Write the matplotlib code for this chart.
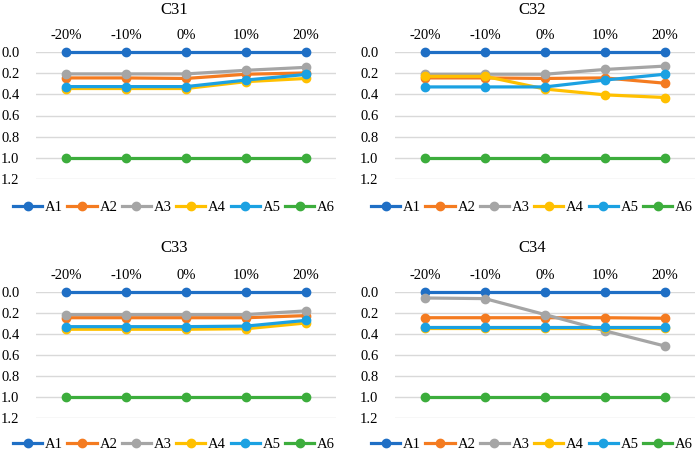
import matplotlib.pyplot as plt

plt.rcParams['font.family'] = ['Liberation Serif', 'DejaVu Serif']

levels = ['-20%', '-10%', '0%', '10%', '20%']
series = ['A1', 'A2', 'A3', 'A4', 'A5', 'A6']
colors = ['#1f6fc5', '#f47b20', '#a5a5a5', '#ffc000', '#1ba1e2', '#3cad3c']

# values per chart, one list per series A1..A6
c31 = [[0, 0, 0, 0, 0],
       [0.245, 0.245, 0.25, 0.21, 0.198],
       [0.207, 0.207, 0.207, 0.173, 0.145],
       [0.345, 0.345, 0.345, 0.28, 0.25],
       [0.327, 0.327, 0.327, 0.265, 0.212],
       [1, 1, 1, 1, 1]]
c32 = [[0, 0, 0, 0, 0],
       [0.245, 0.245, 0.25, 0.245, 0.295],
       [0.21, 0.21, 0.21, 0.165, 0.133],
       [0.23, 0.23, 0.35, 0.405, 0.43],
       [0.33, 0.33, 0.33, 0.265, 0.21],
       [1, 1, 1, 1, 1]]
c33 = [[0, 0, 0, 0, 0],
       [0.245, 0.245, 0.245, 0.245, 0.225],
       [0.215, 0.215, 0.215, 0.215, 0.18],
       [0.355, 0.355, 0.355, 0.35, 0.295],
       [0.33, 0.33, 0.33, 0.325, 0.27],
       [1, 1, 1, 1, 1]]
c34 = [[0, 0, 0, 0, 0],
       [0.245, 0.245, 0.245, 0.245, 0.25],
       [0.057, 0.063, 0.215, 0.37, 0.515],
       [0.347, 0.347, 0.347, 0.347, 0.347],
       [0.33, 0.33, 0.33, 0.33, 0.33],
       [1, 1, 1, 1, 1]]
charts = ['C31', 'C32', 'C33', 'C34']
yticks = [0.0, 0.2, 0.4, 0.6, 0.8, 1.0, 1.2]

W, H = 699, 453
fig = plt.figure(figsize=(W / 100, H / 100), dpi=100)

# (left px, top px, right px, bottom px, title center x, title y, legend y)
boxes = [(36, 52, 336, 179, 174, 10, 207),
         (395, 52, 695, 179, 532, 10, 207),
         (36, 292, 336, 418, 174, 248, 444),
         (395, 292, 695, 418, 532, 248, 444)]
data = [c31, c32, c33, c34]

for name, vals, (l, t, r, b, tx, ty, ly) in zip(charts, data, boxes):
    ax = fig.add_axes([l / W, 1 - b / H, (r - l) / W, (b - t) / H])
    x = range(len(levels))
    for s, v, c in zip(series, vals, colors):
        ax.plot(x, v, color=c, lw=2.3, marker='o', ms=6, label=s,
                clip_on=False, zorder=3)
    ax.set_xlim(-0.5, len(levels) - 0.5)
    ax.set_ylim(1.2, 0)
    ax.set_yticks(yticks)
    ax.set_yticklabels(['%.1f' % v for v in yticks])
    ax.set_xticks(list(x))
    ax.set_xticklabels(levels)
    ax.xaxis.tick_top()
    ax.tick_params(axis='both', length=0, labelsize=10.5)
    ax.tick_params(axis='x', pad=7)
    ax.tick_params(axis='y', pad=12)
    ax.grid(axis='y', color='#d9d9d9', lw=1)
    for sp in ax.spines.values():
        sp.set_visible(False)
    fig.text(tx / W, 1 - ty / H, name, ha='center', va='center', fontsize=12)
    fig.legend(*ax.get_legend_handles_labels(), loc='center',
               bbox_to_anchor=(tx / W, 1 - ly / H), ncol=6, frameon=False,
               fontsize=10.5, handlelength=2.0, handletextpad=0.2,
               columnspacing=0.3, borderaxespad=0, borderpad=0)

fig.savefig('out.png', dpi=100)
